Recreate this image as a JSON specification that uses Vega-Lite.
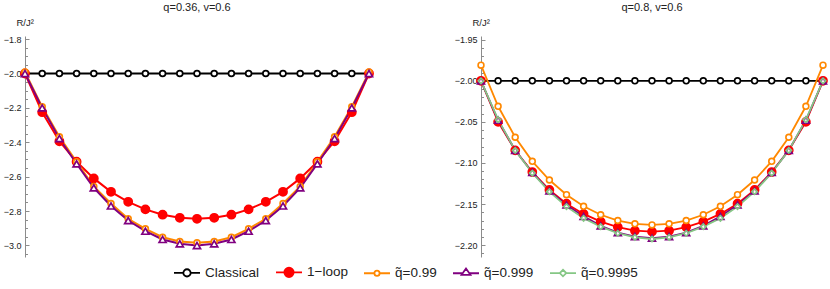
{
  "$schema": "https://vega.github.io/schema/vega-lite/v6.json",
  "padding": {"left": 3, "top": 2, "right": 2, "bottom": 0},
  "autosize": {"type": "pad"},
  "config": {
    "view": {"stroke": null},
    "font": "Liberation Sans",
    "title": {"fontSize": 11, "fontWeight": "normal", "color": "#222", "offset": 4, "font": "Liberation Sans"},
    "axis": {"domainColor": "#8c8c8c", "tickColor": "#8c8c8c", "labelColor": "#222", "labelFontSize": 9, "labelFont": "Liberation Sans", "grid": false, "titleFontSize": 9.5, "titleFont": "Liberation Sans", "titleColor": "#222", "titleFontWeight": "normal", "labelOverlap": false, "labelFlush": false, "labelBound": false}
  },
  "datasets": {
    "L": [
      {"s":"Classical","i":0,"R":-2},{"s":"Classical","i":1,"R":-2},{"s":"Classical","i":2,"R":-2},{"s":"Classical","i":3,"R":-2},{"s":"Classical","i":4,"R":-2},{"s":"Classical","i":5,"R":-2},{"s":"Classical","i":6,"R":-2},{"s":"Classical","i":7,"R":-2},{"s":"Classical","i":8,"R":-2},{"s":"Classical","i":9,"R":-2},{"s":"Classical","i":10,"R":-2},{"s":"Classical","i":11,"R":-2},{"s":"Classical","i":12,"R":-2},{"s":"Classical","i":13,"R":-2},{"s":"Classical","i":14,"R":-2},{"s":"Classical","i":15,"R":-2},{"s":"Classical","i":16,"R":-2},{"s":"Classical","i":17,"R":-2},{"s":"Classical","i":18,"R":-2},{"s":"Classical","i":19,"R":-2},{"s":"Classical","i":20,"R":-2},
      {"s":"1\u2212loop","i":0,"R":-2.0},{"s":"1\u2212loop","i":1,"R":-2.225},{"s":"1\u2212loop","i":2,"R":-2.394},{"s":"1\u2212loop","i":3,"R":-2.513},{"s":"1\u2212loop","i":4,"R":-2.61},{"s":"1\u2212loop","i":5,"R":-2.688},{"s":"1\u2212loop","i":6,"R":-2.746},{"s":"1\u2212loop","i":7,"R":-2.79},{"s":"1\u2212loop","i":8,"R":-2.821},{"s":"1\u2212loop","i":9,"R":-2.839},{"s":"1\u2212loop","i":10,"R":-2.845},{"s":"1\u2212loop","i":11,"R":-2.839},{"s":"1\u2212loop","i":12,"R":-2.821},{"s":"1\u2212loop","i":13,"R":-2.79},{"s":"1\u2212loop","i":14,"R":-2.746},{"s":"1\u2212loop","i":15,"R":-2.688},{"s":"1\u2212loop","i":16,"R":-2.61},{"s":"1\u2212loop","i":17,"R":-2.513},{"s":"1\u2212loop","i":18,"R":-2.394},{"s":"1\u2212loop","i":19,"R":-2.225},{"s":"1\u2212loop","i":20,"R":-2.0},
      {"s":"q\u0303=0.99","i":0,"R":-1.992},{"s":"q\u0303=0.99","i":1,"R":-2.194},{"s":"q\u0303=0.99","i":2,"R":-2.368},{"s":"q\u0303=0.99","i":3,"R":-2.513},{"s":"q\u0303=0.99","i":4,"R":-2.657},{"s":"q\u0303=0.99","i":5,"R":-2.756},{"s":"q\u0303=0.99","i":6,"R":-2.845},{"s":"q\u0303=0.99","i":7,"R":-2.903},{"s":"q\u0303=0.99","i":8,"R":-2.952},{"s":"q\u0303=0.99","i":9,"R":-2.977},{"s":"q\u0303=0.99","i":10,"R":-2.984},{"s":"q\u0303=0.99","i":11,"R":-2.977},{"s":"q\u0303=0.99","i":12,"R":-2.952},{"s":"q\u0303=0.99","i":13,"R":-2.903},{"s":"q\u0303=0.99","i":14,"R":-2.845},{"s":"q\u0303=0.99","i":15,"R":-2.756},{"s":"q\u0303=0.99","i":16,"R":-2.657},{"s":"q\u0303=0.99","i":17,"R":-2.513},{"s":"q\u0303=0.99","i":18,"R":-2.368},{"s":"q\u0303=0.99","i":19,"R":-2.194},{"s":"q\u0303=0.99","i":20,"R":-1.992},
      {"s":"q\u0303=0.999","i":0,"R":-2.0},{"s":"q\u0303=0.999","i":1,"R":-2.2},{"s":"q\u0303=0.999","i":2,"R":-2.378},{"s":"q\u0303=0.999","i":3,"R":-2.525},{"s":"q\u0303=0.999","i":4,"R":-2.665},{"s":"q\u0303=0.999","i":5,"R":-2.77},{"s":"q\u0303=0.999","i":6,"R":-2.855},{"s":"q\u0303=0.999","i":7,"R":-2.917},{"s":"q\u0303=0.999","i":8,"R":-2.965},{"s":"q\u0303=0.999","i":9,"R":-2.99},{"s":"q\u0303=0.999","i":10,"R":-3.0},{"s":"q\u0303=0.999","i":11,"R":-2.99},{"s":"q\u0303=0.999","i":12,"R":-2.965},{"s":"q\u0303=0.999","i":13,"R":-2.917},{"s":"q\u0303=0.999","i":14,"R":-2.855},{"s":"q\u0303=0.999","i":15,"R":-2.77},{"s":"q\u0303=0.999","i":16,"R":-2.665},{"s":"q\u0303=0.999","i":17,"R":-2.525},{"s":"q\u0303=0.999","i":18,"R":-2.378},{"s":"q\u0303=0.999","i":19,"R":-2.2},{"s":"q\u0303=0.999","i":20,"R":-2.0}
    ],
    "Rt": [
      {"s":"Classical","i":0,"R":-2},{"s":"Classical","i":1,"R":-2},{"s":"Classical","i":2,"R":-2},{"s":"Classical","i":3,"R":-2},{"s":"Classical","i":4,"R":-2},{"s":"Classical","i":5,"R":-2},{"s":"Classical","i":6,"R":-2},{"s":"Classical","i":7,"R":-2},{"s":"Classical","i":8,"R":-2},{"s":"Classical","i":9,"R":-2},{"s":"Classical","i":10,"R":-2},{"s":"Classical","i":11,"R":-2},{"s":"Classical","i":12,"R":-2},{"s":"Classical","i":13,"R":-2},{"s":"Classical","i":14,"R":-2},{"s":"Classical","i":15,"R":-2},{"s":"Classical","i":16,"R":-2},{"s":"Classical","i":17,"R":-2},{"s":"Classical","i":18,"R":-2},{"s":"Classical","i":19,"R":-2},{"s":"Classical","i":20,"R":-2},
      {"s":"1\u2212loop","i":0,"R":-2.0},{"s":"1\u2212loop","i":1,"R":-2.05},{"s":"1\u2212loop","i":2,"R":-2.0846},{"s":"1\u2212loop","i":3,"R":-2.111},{"s":"1\u2212loop","i":4,"R":-2.1328},{"s":"1\u2212loop","i":5,"R":-2.1495},{"s":"1\u2212loop","i":6,"R":-2.162},{"s":"1\u2212loop","i":7,"R":-2.1714},{"s":"1\u2212loop","i":8,"R":-2.178},{"s":"1\u2212loop","i":9,"R":-2.1824},{"s":"1\u2212loop","i":10,"R":-2.1836},{"s":"1\u2212loop","i":11,"R":-2.1824},{"s":"1\u2212loop","i":12,"R":-2.178},{"s":"1\u2212loop","i":13,"R":-2.1714},{"s":"1\u2212loop","i":14,"R":-2.162},{"s":"1\u2212loop","i":15,"R":-2.1495},{"s":"1\u2212loop","i":16,"R":-2.1328},{"s":"1\u2212loop","i":17,"R":-2.111},{"s":"1\u2212loop","i":18,"R":-2.0846},{"s":"1\u2212loop","i":19,"R":-2.05},{"s":"1\u2212loop","i":20,"R":-2.0},
      {"s":"q\u0303=0.99","i":0,"R":-1.981},{"s":"q\u0303=0.99","i":1,"R":-2.031},{"s":"q\u0303=0.99","i":2,"R":-2.0687},{"s":"q\u0303=0.99","i":3,"R":-2.098},{"s":"q\u0303=0.99","i":4,"R":-2.1207},{"s":"q\u0303=0.99","i":5,"R":-2.1386},{"s":"q\u0303=0.99","i":6,"R":-2.1527},{"s":"q\u0303=0.99","i":7,"R":-2.163},{"s":"q\u0303=0.99","i":8,"R":-2.17},{"s":"q\u0303=0.99","i":9,"R":-2.174},{"s":"q\u0303=0.99","i":10,"R":-2.1754},{"s":"q\u0303=0.99","i":11,"R":-2.174},{"s":"q\u0303=0.99","i":12,"R":-2.17},{"s":"q\u0303=0.99","i":13,"R":-2.163},{"s":"q\u0303=0.99","i":14,"R":-2.1527},{"s":"q\u0303=0.99","i":15,"R":-2.1386},{"s":"q\u0303=0.99","i":16,"R":-2.1207},{"s":"q\u0303=0.99","i":17,"R":-2.098},{"s":"q\u0303=0.99","i":18,"R":-2.0687},{"s":"q\u0303=0.99","i":19,"R":-2.031},{"s":"q\u0303=0.99","i":20,"R":-1.981},
      {"s":"q\u0303=0.999","i":0,"R":-2.0},{"s":"q\u0303=0.999","i":1,"R":-2.048},{"s":"q\u0303=0.999","i":2,"R":-2.0846},{"s":"q\u0303=0.999","i":3,"R":-2.1115},{"s":"q\u0303=0.999","i":4,"R":-2.134},{"s":"q\u0303=0.999","i":5,"R":-2.151},{"s":"q\u0303=0.999","i":6,"R":-2.165},{"s":"q\u0303=0.999","i":7,"R":-2.1765},{"s":"q\u0303=0.999","i":8,"R":-2.1848},{"s":"q\u0303=0.999","i":9,"R":-2.1895},{"s":"q\u0303=0.999","i":10,"R":-2.1915},{"s":"q\u0303=0.999","i":11,"R":-2.1895},{"s":"q\u0303=0.999","i":12,"R":-2.1848},{"s":"q\u0303=0.999","i":13,"R":-2.1765},{"s":"q\u0303=0.999","i":14,"R":-2.165},{"s":"q\u0303=0.999","i":15,"R":-2.151},{"s":"q\u0303=0.999","i":16,"R":-2.134},{"s":"q\u0303=0.999","i":17,"R":-2.1115},{"s":"q\u0303=0.999","i":18,"R":-2.0846},{"s":"q\u0303=0.999","i":19,"R":-2.048},{"s":"q\u0303=0.999","i":20,"R":-2.0},
      {"s":"q\u0303=0.9995","i":0,"R":-2.0},{"s":"q\u0303=0.9995","i":1,"R":-2.0473},{"s":"q\u0303=0.9995","i":2,"R":-2.0846},{"s":"q\u0303=0.9995","i":3,"R":-2.1122},{"s":"q\u0303=0.9995","i":4,"R":-2.1349},{"s":"q\u0303=0.9995","i":5,"R":-2.1531},{"s":"q\u0303=0.9995","i":6,"R":-2.1673},{"s":"q\u0303=0.9995","i":7,"R":-2.1775},{"s":"q\u0303=0.9995","i":8,"R":-2.1855},{"s":"q\u0303=0.9995","i":9,"R":-2.1904},{"s":"q\u0303=0.9995","i":10,"R":-2.1925},{"s":"q\u0303=0.9995","i":11,"R":-2.1904},{"s":"q\u0303=0.9995","i":12,"R":-2.1855},{"s":"q\u0303=0.9995","i":13,"R":-2.1775},{"s":"q\u0303=0.9995","i":14,"R":-2.1673},{"s":"q\u0303=0.9995","i":15,"R":-2.1531},{"s":"q\u0303=0.9995","i":16,"R":-2.1349},{"s":"q\u0303=0.9995","i":17,"R":-2.1122},{"s":"q\u0303=0.9995","i":18,"R":-2.0846},{"s":"q\u0303=0.9995","i":19,"R":-2.0473},{"s":"q\u0303=0.9995","i":20,"R":-2.0}
    ]
  },
  "spacing": 77,
  "hconcat": [
    {
      "width": 344,
      "height": 221,
      "title": {"text": "q=0.36, v=0.6"},
      "data": {"name": "L"},
      "encoding": {
        "x": {"field": "i", "type": "quantitative", "scale": {"domain": [0, 20], "nice": false, "zero": false}, "axis": null},
        "y": {"field": "R", "type": "quantitative", "scale": {"domain": [-3.067, -1.782], "nice": false, "zero": false},
          "axis": {
            "values": [-1.8,-1.85,-1.9,-1.95,-2.0,-2.05,-2.1,-2.15,-2.2,-2.25,-2.3,-2.35,-2.4,-2.45,-2.5,-2.55,-2.6,-2.65,-2.7,-2.75,-2.8,-2.85,-2.9,-2.95,-3.0,-3.05],
            "labelExpr": "abs(datum.value*5 - round(datum.value*5)) < 0.01 ? format(datum.value, '.1f') : ''",
            "tickSize": {"condition": {"test": "abs(datum.value*5 - round(datum.value*5)) < 0.01", "value": -4}, "value": -2.5},
            "labelPadding": 8,
            "title": "R/J\u00b2", "titleAngle": 0, "titleAlign": "left", "titleBaseline": "middle", "titleX": -9, "titleY": -14
          }
        },
        "stroke": {"field": "s", "type": "nominal",
          "scale": {"domain": ["Classical", "1\u2212loop", "q\u0303=0.99", "q\u0303=0.999", "q\u0303=0.9995"], "range": ["#000000", "#ff0000", "#ff8800", "#800080", "#85c785"]},
          "legend": {"orient": "none", "legendX": 148, "legendY": 222, "direction": "horizontal", "title": null, "symbolSize": 676, "symbolStrokeWidth": 1.8, "labelFontSize": 13.5, "labelFont": "Liberation Sans", "labelColor": "#222", "labelOffset": 4, "columnPadding": 12,
            "encode": {"symbols": {"update": {
              "shape": {"signal": "datum.index === 0 ? 'M-1,0H-0.28M0.28,0H1M-0.28,0A0.28,0.28 0 1 1 0.28,0A0.28,0.28 0 1 1 -0.28,0Z' : datum.index === 1 ? 'M-1,0H1M-0.36,0A0.36,0.36 0 1 1 0.36,0A0.36,0.36 0 1 1 -0.36,0Z' : datum.index === 2 ? 'M-1,0H-0.2M0.2,0H1M-0.2,0A0.2,0.2 0 1 1 0.2,0A0.2,0.2 0 1 1 -0.2,0Z' : datum.index === 3 ? 'M-1,0H-0.3M0.3,0H1M-0.34,0.12L0,-0.36L0.34,0.12Z' : 'M-1,0H-0.25M0.25,0H1M-0.25,0L0,-0.25L0.25,0L0,0.25Z'"},
              "fill": {"signal": "datum.index === 1 ? '#ff0000' : '#ffffff'"},
              "size": {"value": 676},
              "strokeWidth": {"value": 1.8},
              "opacity": {"value": 1}
            }}}
          }
        }
      },
      "layer": [
        {"mark": {"type": "line", "strokeWidth": 2}},
        {"mark": {"type": "point", "strokeWidth": 1.7, "opacity": 1},
          "encoding": {
            "fill": {"condition": [{"test": "datum.s === '1\u2212loop'", "value": "#ff0000"}, {"test": "datum.s === 'q\u0303=0.9995'", "value": "rgba(255,255,255,0.2)"}], "value": "#ffffff"},
            "shape": {"condition": [{"test": "datum.s === 'q\u0303=0.999'", "value": "triangle-up"}, {"test": "datum.s === 'q\u0303=0.9995'", "value": "diamond"}], "value": "circle"},
            "size": {"condition": [{"test": "datum.s === '1\u2212loop'", "value": 66}, {"test": "datum.s === 'q\u0303=0.999'", "value": 50}, {"test": "datum.s === 'q\u0303=0.9995'", "value": 30}], "value": 34}
          }
        }
      ]
    },
    {
      "width": 342,
      "height": 221,
      "title": {"text": "q=0.8, v=0.6"},
      "data": {"name": "Rt"},
      "encoding": {
        "x": {"field": "i", "type": "quantitative", "scale": {"domain": [0, 20], "nice": false, "zero": false}, "axis": null},
        "y": {"field": "R", "type": "quantitative", "scale": {"domain": [-2.2144, -1.9455], "nice": false, "zero": false},
          "axis": {
            "values": [-1.95,-1.96,-1.97,-1.98,-1.99,-2.0,-2.01,-2.02,-2.03,-2.04,-2.05,-2.06,-2.07,-2.08,-2.09,-2.1,-2.11,-2.12,-2.13,-2.14,-2.15,-2.16,-2.17,-2.18,-2.19,-2.2,-2.21],
            "labelExpr": "abs(datum.value*20 - round(datum.value*20)) < 0.01 ? format(datum.value, '.2f') : ''",
            "tickSize": {"condition": {"test": "abs(datum.value*20 - round(datum.value*20)) < 0.01", "value": -4}, "value": -2.5},
            "labelPadding": 8,
            "title": "R/J\u00b2", "titleAngle": 0, "titleAlign": "left", "titleBaseline": "middle", "titleX": -9, "titleY": -14
          }
        },
        "stroke": {"field": "s", "type": "nominal",
          "scale": {"domain": ["Classical", "1\u2212loop", "q\u0303=0.99", "q\u0303=0.999", "q\u0303=0.9995"], "range": ["#000000", "#ff0000", "#ff8800", "#800080", "#85c785"]},
          "legend": {"orient": "none", "legendX": 148, "legendY": 222, "direction": "horizontal", "title": null, "symbolSize": 676, "symbolStrokeWidth": 1.8, "labelFontSize": 13.5, "labelFont": "Liberation Sans", "labelColor": "#222", "labelOffset": 4, "columnPadding": 12,
            "encode": {"symbols": {"update": {
              "shape": {"signal": "datum.index === 0 ? 'M-1,0H-0.28M0.28,0H1M-0.28,0A0.28,0.28 0 1 1 0.28,0A0.28,0.28 0 1 1 -0.28,0Z' : datum.index === 1 ? 'M-1,0H1M-0.36,0A0.36,0.36 0 1 1 0.36,0A0.36,0.36 0 1 1 -0.36,0Z' : datum.index === 2 ? 'M-1,0H-0.2M0.2,0H1M-0.2,0A0.2,0.2 0 1 1 0.2,0A0.2,0.2 0 1 1 -0.2,0Z' : datum.index === 3 ? 'M-1,0H-0.3M0.3,0H1M-0.34,0.12L0,-0.36L0.34,0.12Z' : 'M-1,0H-0.25M0.25,0H1M-0.25,0L0,-0.25L0.25,0L0,0.25Z'"},
              "fill": {"signal": "datum.index === 1 ? '#ff0000' : '#ffffff'"},
              "size": {"value": 676},
              "strokeWidth": {"value": 1.8},
              "opacity": {"value": 1}
            }}}
          }
        }
      },
      "layer": [
        {"mark": {"type": "line", "strokeWidth": 1.8}},
        {"mark": {"type": "point", "strokeWidth": 1.6, "opacity": 1},
          "encoding": {
            "fill": {"condition": [{"test": "datum.s === '1\u2212loop'", "value": "#ff0000"}, {"test": "datum.s === 'q\u0303=0.9995'", "value": "rgba(255,255,255,0.2)"}], "value": "#ffffff"},
            "shape": {"condition": [{"test": "datum.s === 'q\u0303=0.999'", "value": "triangle-up"}, {"test": "datum.s === 'q\u0303=0.9995'", "value": "diamond"}], "value": "circle"},
            "size": {"condition": [{"test": "datum.s === '1\u2212loop'", "value": 66}, {"test": "datum.s === 'q\u0303=0.999'", "value": 50}, {"test": "datum.s === 'q\u0303=0.9995'", "value": 30}], "value": 34}
          }
        }
      ]
    }
  ]
}
